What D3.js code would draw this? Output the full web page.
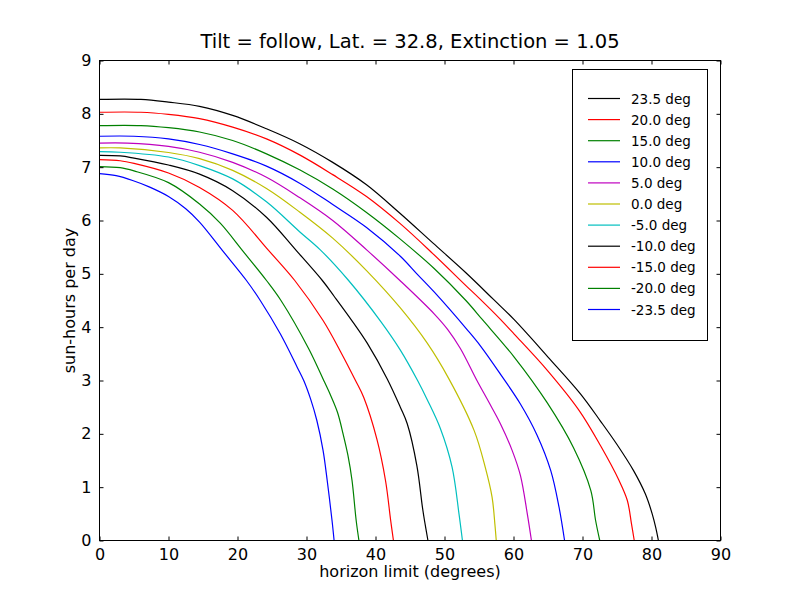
<!DOCTYPE html>
<html>
<head>
<meta charset="utf-8">
<script src="https://cdn.jsdelivr.net/npm/d3@7"></script>
<style>
  body { margin: 0; background: #fff; }
  svg { display: block; font-family: "DejaVu Sans", sans-serif; }
</style>
</head>
<body>
<svg id="chart" width="800" height="600"></svg>
<script>
// ---- data ----
const titleText = "Tilt = follow, Lat. = 32.8, Extinction = 1.05";
const xLabel = "horizon limit (degrees)";
const yLabel = "sun-hours per day";
const xTicks = [0, 10, 20, 30, 40, 50, 60, 70, 80, 90];
const yTicks = [0, 1, 2, 3, 4, 5, 6, 7, 8, 9];
const seriesNames = ["23.5 deg", "20.0 deg", "15.0 deg", "10.0 deg", "5.0 deg", "0.0 deg",
                     "-5.0 deg", "-10.0 deg", "-15.0 deg", "-20.0 deg", "-23.5 deg"];
const seriesColors = ["#000000", "#ff0000", "#008000", "#0000ff", "#bf00bf", "#bfbf00",
                      "#00bfbf", "#000000", "#ff0000", "#008000", "#0000ff"];

const dec23_5 = [[0,8.27],[6,8.27],[10,8.22],[14.5,8.14],[19.3,7.97],[24.2,7.72],[29,7.44],[33.8,7.09],[38.7,6.67],[43.5,6.14],[48.3,5.58],[53.1,5.02],[57.1,4.52],[60.1,4.14],[65,3.44],[69.7,2.75],[72.6,2.24],[75,1.8],[77.4,1.31],[79.1,0.875],[80.1,0.5],[80.6,0.25],[81,0],[90,0]];
const dec20 = [[0,8.03],[6,8.03],[10,7.99],[14.5,7.91],[19.3,7.75],[24.2,7.53],[29,7.23],[33.8,6.86],[38.7,6.45],[43.5,5.95],[48.3,5.38],[53.1,4.78],[55.2,4.52],[58,4.16],[60.1,3.87],[64.9,3.19],[69.5,2.44],[72.6,1.78],[75.3,1.125],[76.5,0.75],[77.1,0.31],[77.5,0],[90,0]];
const dec15 = [[0,7.78],[6,7.78],[10,7.74],[14.5,7.66],[19.3,7.5],[24.2,7.25],[29,6.95],[33.8,6.59],[38.7,6.15],[43.5,5.66],[48.5,5.1],[53.1,4.5],[55.5,4.14],[60.1,3.44],[64.9,2.58],[68.7,1.74],[71.2,0.94],[71.9,0.375],[72.5,0],[90,0]];
const dec10 = [[0,7.58],[5,7.58],[10,7.53],[14.5,7.425],[19.3,7.25],[24.2,7.02],[29,6.7],[33.8,6.3],[38.7,5.87],[43.6,5.33],[46,5.0],[48.5,4.66],[53.3,3.95],[55.2,3.65],[58.1,3.12],[61,2.56],[63.4,1.98],[65.4,1.31],[66.6,0.625],[67.4,0],[90,0]];
const dec5 = [[0,7.45],[4,7.45],[10,7.39],[14.5,7.28],[19.3,7.09],[24.2,6.81],[29,6.43],[33.8,6.0],[38.8,5.44],[43.5,4.88],[48.5,4.25],[50.5,3.95],[52.3,3.6],[54.7,3.0],[56.4,2.6],[58.1,2.19],[59.8,1.69],[61,1.22],[62,0.5],[62.6,0],[90,0]];
const dec0 = [[0,7.36],[3,7.36],[10,7.275],[14.5,7.16],[19.3,6.94],[24.2,6.6],[29,6.16],[33.8,5.67],[38.7,5.06],[43.6,4.36],[47.5,3.7],[50.6,3.04],[54.3,2.06],[55.9,1.375],[56.9,0.81],[57.3,0.31],[57.5,0],[90,0]];
const decM5 = [[0,7.29],[3,7.28],[10,7.19],[14.5,7.03],[19.3,6.78],[24.2,6.35],[29,5.79],[32,5.45],[36.1,4.875],[40.8,4.1],[43.6,3.57],[46.1,3.0],[47.5,2.64],[49.4,2.1],[51.1,1.375],[52.1,0.5],[52.6,0],[90,0]];
const decM10 = [[0,7.22],[3,7.21],[5,7.17],[10,7.04],[14.5,6.87],[19.3,6.56],[24.2,6.06],[28.5,5.44],[32.3,4.875],[34,4.58],[36.7,4.1],[38.8,3.7],[41.7,3.03],[43.6,2.5],[44.6,2.19],[46,1.4],[46.8,0.625],[47.1,0.375],[47.6,0],[90,0]];
const decM15 = [[0,7.14],[3,7.12],[5,7.07],[10,6.89],[14.5,6.62],[19.3,6.19],[24.5,5.44],[28.3,4.875],[32.4,4.125],[34.9,3.55],[37.1,3.0],[38.3,2.68],[40.2,1.9],[41.45,1.125],[42.2,0.375],[42.6,0],[90,0]];
const decM20 = [[0,7.01],[3,6.99],[5,6.93],[10,6.71],[14.5,6.31],[17.5,5.95],[20.7,5.44],[24.2,4.875],[26.3,4.5],[30.3,3.6],[32.5,3.0],[33.5,2.72],[34.5,2.4],[35.3,2.0],[36,1.6],[36.6,1.125],[37.2,0.375],[37.6,0],[90,0]];
const decM23_5 = [[0,6.88],[2.4,6.84],[4.8,6.75],[7.2,6.63],[10,6.45],[12.5,6.22],[14.5,5.97],[17.8,5.44],[21.3,4.875],[23.3,4.5],[26.2,3.875],[28.65,3.25],[29.6,3.0],[30.6,2.65],[31.5,2.25],[32.4,1.69],[33,1.125],[33.7,0.375],[34,0],[90,0]];

const seriesData = [dec23_5, dec20, dec15, dec10, dec5, dec0, decM5, decM10, decM15, decM20, decM23_5];

// ---- layout ----
const svg = d3.select("#chart");
const L = 99.5, R = 720.5, T = 60.5, B = 540.5;

const xScale = d3.scaleLinear().domain([0, 90]).range([L, R]);
const yScale = d3.scaleLinear().domain([0, 9]).range([B, T]);

svg.append("rect").attr("width", 800).attr("height", 600).attr("fill", "#fff");

const clip = svg.append("defs").append("clipPath").attr("id", "clip");
clip.append("rect").attr("x", L).attr("y", T - 1).attr("width", R - L).attr("height", B - T + 1);

const curveGen = d3.line()
  .x(d => xScale(d[0]))
  .y(d => yScale(d[1]))
  .curve(d3.curveCatmullRom.alpha(0.5));
const flatGen = d3.line()
  .x(d => xScale(d[0]))
  .y(d => yScale(d[1]));

const plot = svg.append("g").attr("clip-path", "url(#clip)");
seriesData.forEach((s, i) => {
  const zi = s.findIndex(d => d[1] === 0);
  const curved = s.slice(0, zi + 1);
  const flat = s.slice(zi);
  plot.append("path")
    .attr("fill", "none")
    .attr("stroke", seriesColors[i])
    .attr("stroke-width", 1.2)
    .attr("stroke-linejoin", "round")
    .attr("d", curveGen(curved) + flatGen(flat));
});

// axes (matplotlib classic: inward ticks on all sides)
const tickLen = 4;
const fontTick = 16;
const axBottom = d3.axisBottom(xScale).tickValues(xTicks).tickSizeInner(-tickLen).tickSizeOuter(0).tickPadding(8);
const axTop = d3.axisTop(xScale).tickValues(xTicks).tickSizeInner(-tickLen).tickSizeOuter(0).tickFormat("");
const axLeft = d3.axisLeft(yScale).tickValues(yTicks).tickSizeInner(-tickLen).tickSizeOuter(0).tickPadding(8);
const axRight = d3.axisRight(yScale).tickValues(yTicks).tickSizeInner(-tickLen).tickSizeOuter(0).tickFormat("");

function styleAxis(g) {
  g.select(".domain").remove();
  g.selectAll("line").attr("stroke", "#000").attr("stroke-width", 1);
  g.selectAll("text").attr("fill", "#000").style("font-size", fontTick + "px")
    .style("font-family", "'DejaVu Sans', sans-serif");
}
svg.append("g").attr("transform", `translate(0,${B})`).call(axBottom).call(styleAxis);
svg.append("g").attr("transform", `translate(0,${T})`).call(axTop).call(styleAxis);
svg.append("g").attr("transform", `translate(${L},0)`).call(axLeft).call(styleAxis);
svg.append("g").attr("transform", `translate(${R},0)`).call(axRight).call(styleAxis);

// frame
svg.append("rect").attr("x", L).attr("y", T).attr("width", R - L).attr("height", B - T)
  .attr("fill", "none").attr("stroke", "#000").attr("stroke-width", 1);

// title and labels
svg.append("text").attr("x", (L + R) / 2).attr("y", 48).attr("text-anchor", "middle")
  .style("font-size", "19.5px").text(titleText);
svg.append("text").attr("x", (L + R) / 2).attr("y", 577).attr("text-anchor", "middle")
  .style("font-size", "16px").text(xLabel);
svg.append("text").attr("transform", `translate(75,${(T + B) / 2}) rotate(-90)`)
  .attr("text-anchor", "middle").style("font-size", "16px").text(yLabel);

// legend
const lg = svg.append("g");
lg.append("rect").attr("x", 572.5).attr("y", 69.5).attr("width", 135).attr("height", 271)
  .attr("fill", "#fff").attr("stroke", "#000").attr("stroke-width", 1);
seriesNames.forEach((name, i) => {
  const yy = 98.5 + i * 21.1;
  lg.append("line").attr("x1", 588).attr("x2", 620).attr("y1", yy).attr("y2", yy)
    .attr("stroke", seriesColors[i]).attr("stroke-width", 1.2);
  lg.append("text").attr("x", 631).attr("y", yy + 5).style("font-size", "13.5px").text(name);
});
</script>
</body>
</html>
